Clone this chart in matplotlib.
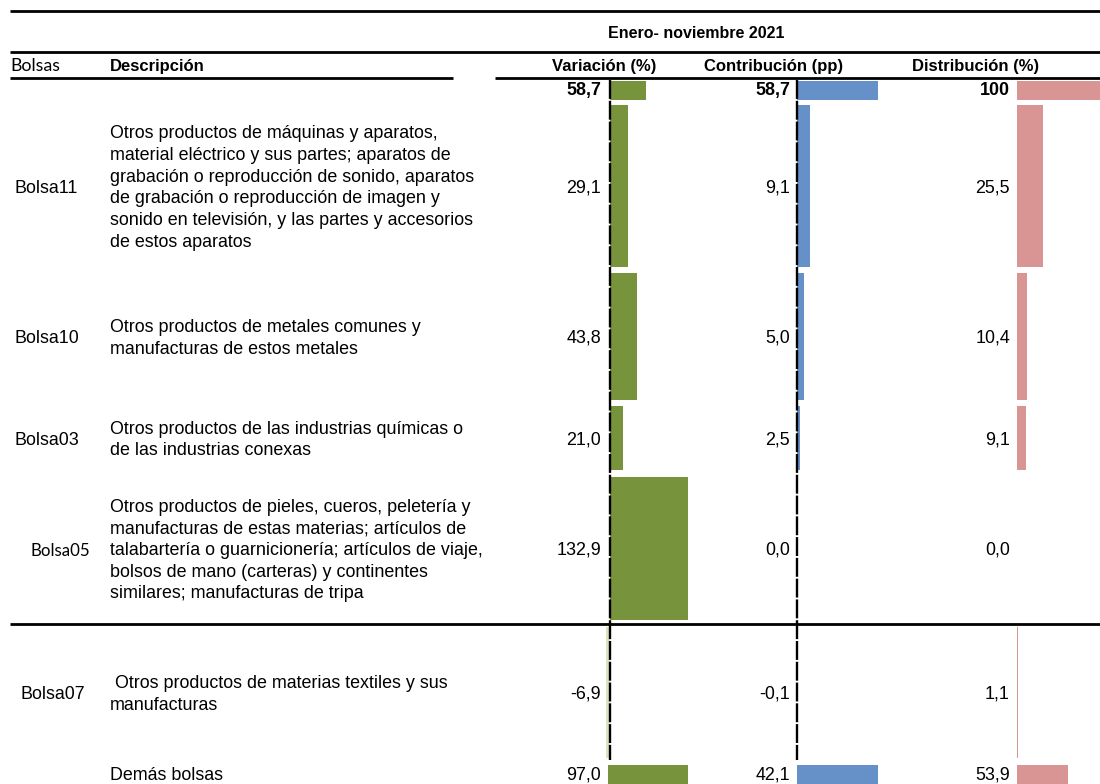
import matplotlib
matplotlib.use("Agg")
import matplotlib.pyplot as plt

# ---------------- data ----------------
codes = ["Bolsa11", "Bolsa10", "Bolsa03", "Bolsa05", "Bolsa07"]
descriptions = [
    "Otros productos de máquinas y aparatos,\nmaterial eléctrico y sus partes; aparatos de\ngrabación o reproducción de sonido, aparatos\nde grabación o reproducción de imagen y\nsonido en televisión, y las partes y accesorios\nde estos aparatos",
    "Otros productos de metales comunes y\nmanufacturas de estos metales",
    "Otros productos de las industrias químicas o\nde las industrias conexas",
    "Otros productos de pieles, cueros, peletería y\nmanufacturas de estas materias; artículos de\ntalabartería o guarnicionería; artículos de viaje,\nbolsos de mano (carteras) y continentes\nsimilares; manufacturas de tripa",
    " Otros productos de materias textiles y sus\nmanufacturas",
]
variacion = [29.1, 43.8, 21.0, 132.9, -6.9]
contribucion = [9.1, 5.0, 2.5, 0.0, -0.1]
distribucion = [25.5, 10.4, 9.1, 0.0, 1.1]

total_label = ["58,7", "58,7", "100"]
total_values = [58.7, 58.7, 100.0]

rest_label = "Demás bolsas"
rest_values = [97.0, 42.1, 53.9]

title = "Enero- noviembre 2021"
col_headers = ["Variación (%)", "Contribución (pp)", "Distribución (%)"]

# ---------------- layout (pixels) ----------------
W, H = 1100, 784
row_centers = [186, 336.5, 438, 548.5, 692.5]
row_heights = [162, 127, 64, 143, 131]
total_center, total_h = 90.5, 19
rest_center, rest_h = 777.5, 25

green = "#77933c"
green_neg = "#d7e4bd"
blue = "#6590c8"
pink = "#d99594"

arial = ["Liberation Sans", "DejaVu Sans"]
calibri = ["Lato", "DejaVu Sans"]
FS = 12.9
HFS = 12.0

fig = plt.figure(figsize=(W / 100, H / 100), dpi=100)
fig.patch.set_facecolor("white")

ov = fig.add_axes([0, 0, 1, 1])
ov.set_xlim(0, W)
ov.set_ylim(H, 0)
ov.axis("off")


def col_axes(x0, x1, zero, scale, y0=0, y1=H):
    ax = fig.add_axes([x0 / W, 1 - y1 / H, (x1 - x0) / W, (y1 - y0) / H])
    ax.set_xlim((x0 - zero) / scale, (x1 - zero) / scale)
    ax.set_ylim(y1, y0)
    ax.axis("off")
    ax.patch.set_alpha(0)
    return ax


def fmt(v):
    return f"{v:.1f}".replace(".", ",")


# main bar axes
ax_v = col_axes(598, 688, 610, 0.62)
ax_c = col_axes(790, 880, 797, 1.38)
ax_d = col_axes(1010, 1100, 1017, 1.0)

for ax, vals, tot, col in [(ax_v, variacion, total_values[0], green),
                           (ax_c, contribucion, total_values[1], blue),
                           (ax_d, distribucion, total_values[2], pink)]:
    colors = [col if v >= 0 else (green_neg if col == green else col) for v in vals]
    ax.barh(row_centers, vals, height=row_heights, color=colors, linewidth=0)
    ax.barh([total_center], [tot], height=total_h, color=col, linewidth=0)

# last row (own scale)
ax_vr = col_axes(598, 690, 608, 0.825, 760, H)
ax_cr = col_axes(790, 880, 797, 1.92, 760, H)
ax_dr = col_axes(1010, 1100, 1017, 0.95, 760, H)
for ax, v, col in [(ax_vr, rest_values[0], green), (ax_cr, rest_values[1], blue),
                   (ax_dr, rest_values[2], pink)]:
    ax.barh([rest_center], [v], height=rest_h, color=col, linewidth=0)

# horizontal rules
for y, segs in [(11, [(10, 1100)]), (52, [(10, 1100)]),
                (78, [(10, 453), (495, 1100)]), (624, [(10, 1100)])]:
    for a, b in segs:
        ov.plot([a, b], [y, y], color="black", lw=2, solid_capstyle="butt")

# dashed zero lines
for x in (610, 797):
    ov.plot([x, x], [80, 760], color="black", lw=1.7, linestyle=(0, (8, 0.8)), zorder=5)
ov.set_zorder(3)

# headers
ov.text(696, 33, title, ha="center", va="center", fontsize=11.5, fontweight="bold", family=arial)
ov.text(10, 66, "Bolsas", ha="left", va="center", fontsize=12.8, family=calibri)
ov.text(110, 66, "Descripción", ha="left", va="center", fontsize=HFS, fontweight="bold", family=arial)
ov.text(656, 66, col_headers[0], ha="right", va="center", fontsize=HFS, fontweight="bold", family=arial)
ov.text(774, 66, col_headers[1], ha="center", va="center", fontsize=HFS, fontweight="bold", family=arial)
ov.text(976, 66, col_headers[2], ha="center", va="center", fontsize=HFS, fontweight="bold", family=arial)

# total row
value_x = [601, 790, 1010]
for x, t in zip(value_x, total_label):
    ov.text(x, total_center, t, ha="right", va="center", fontsize=FS, fontweight="bold", family=arial)

# rows
code_x = [14, 14, 14, 30, 20]
for i, (c, d) in enumerate(zip(codes, descriptions)):
    y = row_centers[i]
    fam = calibri if c == "Bolsa05" else arial
    cfs = 12.2 if c == "Bolsa05" else FS
    ov.text(code_x[i], y + 2, c, ha="left", va="center", fontsize=cfs, family=fam)
    ov.text(110, y + 2, d, ha="left", va="center", fontsize=FS, family=arial, linespacing=1.36)
    for x, vals in zip(value_x, [variacion, contribucion, distribucion]):
        ov.text(x, y + 1.5, fmt(vals[i]), ha="right", va="center", fontsize=FS, family=arial)

ov.text(110, 775, rest_label, ha="left", va="center", fontsize=FS, family=arial)
for x, v in zip(value_x, rest_values):
    ov.text(x, 775, fmt(v), ha="right", va="center", fontsize=FS, family=arial)

fig.savefig("out.png", dpi=100, facecolor="white")
